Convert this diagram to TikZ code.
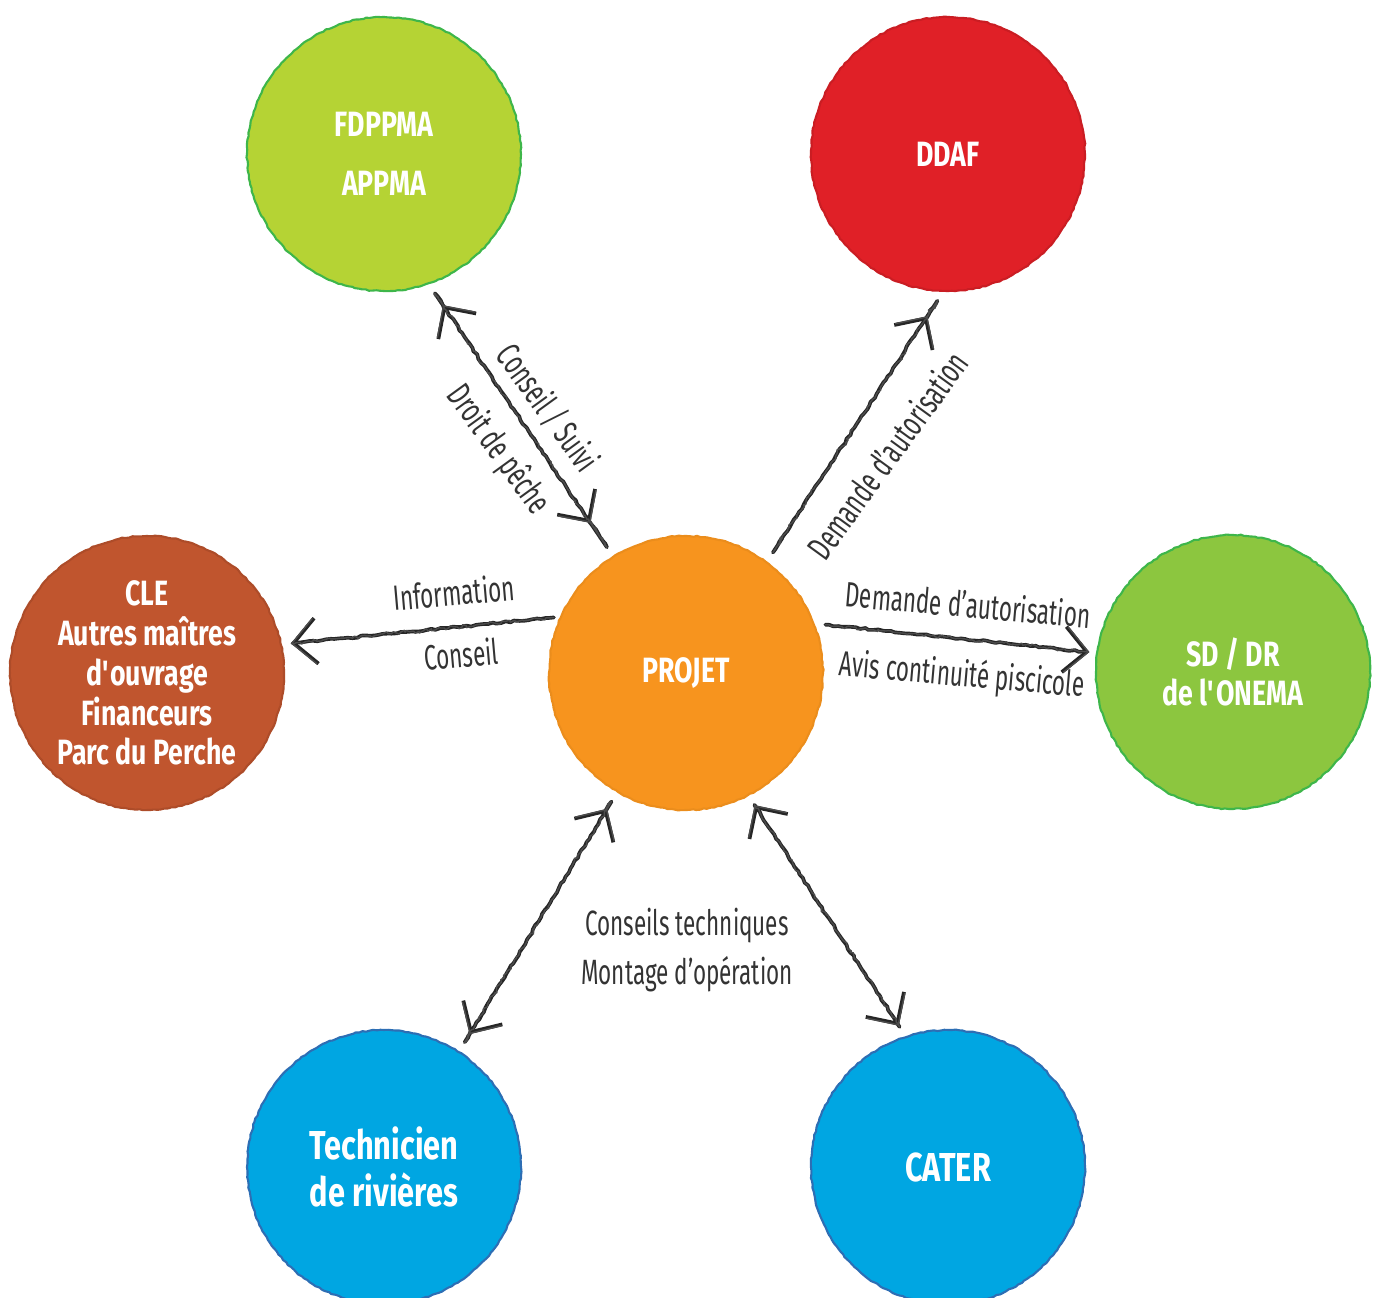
\documentclass[tikz,border=0pt]{standalone}
\usepackage{fontspec}
\setmainfont{Fira Sans}[FakeStretch=0.76]
\newfontfamily\lblfont{Fira Sans}[FakeStretch=0.64]
\usetikzlibrary{arrows.meta,decorations.pathmorphing}

\definecolor{cfede}{RGB}{181,211,52}
\definecolor{cfedeedge}{RGB}{62,182,74}
\definecolor{cddaf}{RGB}{224,32,39}
\definecolor{ccle}{RGB}{192,85,46}
\definecolor{cprojet}{RGB}{247,148,30}
\definecolor{conema}{RGB}{140,198,63}
\definecolor{cblue}{RGB}{0,166,226}
\definecolor{cblueedge}{RGB}{45,110,180}

\tikzset{
  bubble/.style={circle, minimum size=5.48cm, inner sep=0pt, align=center,
    text=white, font=\bfseries\fontsize{20}{22.7}\selectfont, line width=1.2pt,
    decorate, decoration={random steps, segment length=2pt, amplitude=0.35pt}},
  link/.style={draw=black!85, line width=2.1pt, decorate,
    decoration={random steps, segment length=2.5pt, amplitude=0.5pt, pre length=6pt, post length=6pt},
    postaction={draw=black!70, line width=0.8pt, decorate,
      decoration={random steps, segment length=1.5pt, amplitude=1.1pt}}},
  lbl/.style={font=\lblfont\fontsize{20}{28}\selectfont, text=black!80, inner sep=0pt}
}

\begin{document}
\begin{tikzpicture}[x=0.02cm, y=-0.02cm, line join=round, line cap=round,
    >={Straight Barb[length=13pt,width=26pt]}]
  \useasboundingbox (0,0) rectangle (1376,1298);

  % circles
  \node[bubble, fill=cfede, draw=cfedeedge] (fede) at (384,154) {FDPPMA\\[11pt]APPMA};
  \node[bubble, fill=cddaf, draw=cddaf!90!black] (ddaf) at (948,154) {DDAF};
  \node[bubble, fill=ccle, draw=ccle!90!black] (cle) at (147,673)
    {CLE\\Autres maîtres\\d\textquotesingle ouvrage\\Financeurs\\Parc du Perche};
  \node[bubble, fill=cprojet, draw=cprojet!95!black] (projet) at (686,673) {PROJET};
  \node[bubble, fill=conema, draw=cfedeedge] (onema) at (1233,672) {SD / DR\\de l\textquotesingle ONEMA};
  \node[bubble, fill=cblue, draw=cblueedge, font=\bfseries\fontsize{23}{27}\selectfont]
    (tech) at (384,1167) {Technicien\\de rivières};
  \node[bubble, fill=cblue, draw=cblueedge, font=\bfseries\fontsize{23}{27}\selectfont]
    (cater) at (948,1167) {CATER};

  % arrows
  \draw[link, <->, shorten <=0.5cm, shorten >=0.8cm] (fede.-71) -- (projet.122);
  \draw[link, ->, shorten <=0.56cm, shorten >=0.58cm] (projet.54) -- (ddaf.-92);
  \draw[link, ->, shorten <=0.12cm, shorten >=0.18cm] (projet.156) -- (cle.12);
  \draw[link, ->, shorten <=0.24cm, shorten >=0.14cm] (projet.21) -- (onema.172);
  \draw[link, <->, shorten <=0.38cm, shorten >=0.4cm] (projet.-120) -- (tech.57);
  \draw[link, <->, shorten <=0.22cm, shorten >=0.24cm] (projet.-63) -- (cater.108);

  % labels
  \node[lbl, rotate=-54] (suivi) at (548,408) {Conseil / Suivi};
  \node[lbl, rotate=-54] (peche) at (498,450) {Droit de pêche};
  \node[lbl, rotate=54] (demandeddaf) at (887,455) {Demande d’autorisation};
  \node[lbl, rotate=5] (info) at (454,592) {Information};
  \node[lbl, rotate=5] (conseil) at (461,654) {Conseil};
  \node[lbl, rotate=-5] (demandeonema) at (968,604) {Demande d’autorisation};
  \node[lbl, rotate=-5] (avis) at (962,676) {Avis continuité piscicole};
  \node[lbl, align=center] (techniques) at (687,950) {Conseils techniques\\Montage d’opération};
\end{tikzpicture}
\end{document}
